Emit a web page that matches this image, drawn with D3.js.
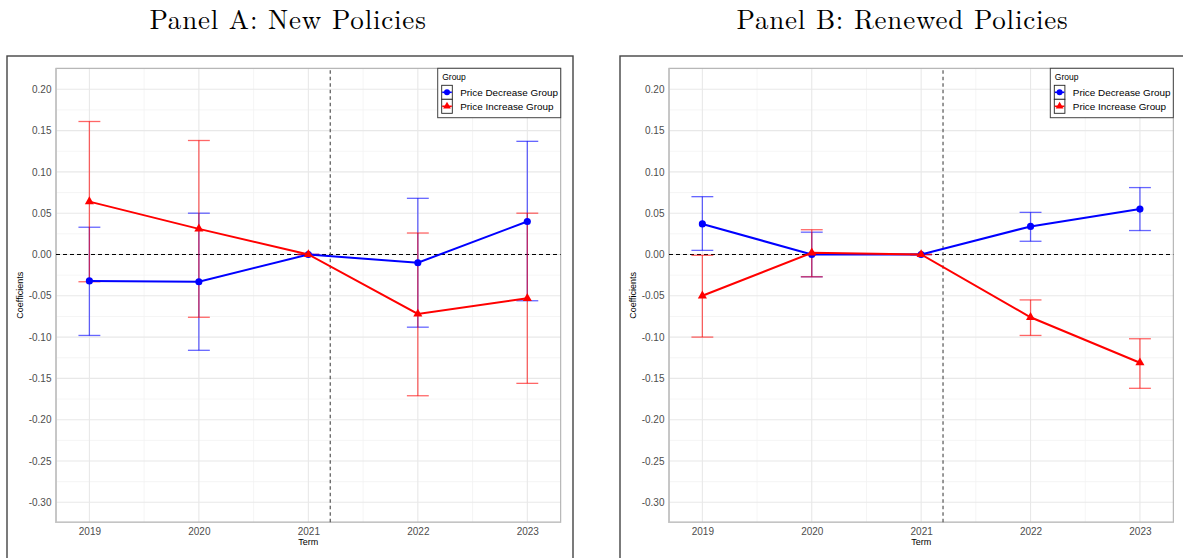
<!DOCTYPE html>
<html>
<head>
<meta charset="utf-8">
<script src="https://cdn.jsdelivr.net/npm/d3@7"></script>
<style>
  body { margin: 0; background: #fff; }
  svg { display: block; }
</style>
</head>
<body>
<div id="chart"></div>
<script>
// event-study coefficients
const years = [2019, 2020, 2021, 2022, 2023];
const groups = ["Price Decrease Group", "Price Increase Group"];
const yTicks = [-0.30, -0.25, -0.20, -0.15, -0.10, -0.05, 0.00, 0.05, 0.10, 0.15, 0.20];

// Panel A: new policies
const newDecEst = [-0.032, -0.033, 0.000, -0.010, 0.040];
const newDecLo  = [-0.098, -0.116, 0.000, -0.088, -0.056];
const newDecHi  = [0.033, 0.050, 0.000, 0.068, 0.137];
const newIncEst = [0.064, 0.031, 0.000, -0.072, -0.053];
const newIncLo  = [-0.033, -0.076, 0.000, -0.171, -0.156];
const newIncHi  = [0.161, 0.138, 0.000, 0.026, 0.050];

// Panel B: renewed policies
const renDecEst = [0.037, 0.000, 0.000, 0.034, 0.055];
const renDecLo  = [0.005, -0.027, 0.000, 0.016, 0.029];
const renDecHi  = [0.070, 0.027, 0.000, 0.051, 0.081];
const renIncEst = [-0.050, 0.002, 0.000, -0.076, -0.131];
const renIncLo  = [-0.100, -0.027, 0.000, -0.098, -0.162];
const renIncHi  = [-0.001, 0.030, 0.000, -0.055, -0.102];

const treatLine = 2021.2;

var width = 1183, height = 558;
var svg = d3.select("#chart").append("svg")
    .attr("width", width)
    .attr("height", height);

var colorScale = d3.scaleOrdinal().domain(groups).range(["#0000ff", "#ff0000"]);

function toRows(est, lo, hi) {
    return years.map((y, i) => ({year: y, est: est[i], lo: lo[i], hi: hi[i]}));
}

function drawPanel(opts) {
    var g = svg.append("g");

    // outer frame of the sub-figure
    g.append("rect")
        .attr("x", opts.frame[0]).attr("y", 56)
        .attr("width", opts.frame[1] - opts.frame[0]).attr("height", 520)
        .attr("fill", "none").attr("stroke", "#444").attr("stroke-width", 1.4);

    g.append("text")
        .attr("x", opts.titleX).attr("y", 28.5)
        .attr("text-anchor", "middle")
        .attr("font-family", "'Latin Modern Roman', 'CMU Serif', 'Liberation Serif', serif")
        .attr("font-size", 27)
        .attr("letter-spacing", 0.8)
        .attr("fill", "#000")
        .text(opts.title);

    var x = d3.scaleLinear().domain([2018.695, 2023.305]).range([opts.left, opts.right]);
    var y = d3.scaleLinear().domain([-0.3242, 0.2254]).range([522.3, 68.3]);

    // grid
    var minorX = d3.range(2019.5, 2023, 1);
    var minorY = d3.range(-0.275, 0.23, 0.05);
    g.append("g").selectAll("line").data(minorX).join("line")
        .attr("x1", d => x(d)).attr("x2", d => x(d))
        .attr("y1", y.range()[0]).attr("y2", y.range()[1])
        .attr("stroke", "#f3f3f3").attr("stroke-width", 0.8);
    g.append("g").selectAll("line").data(minorY).join("line")
        .attr("x1", opts.left).attr("x2", opts.right)
        .attr("y1", d => y(d)).attr("y2", d => y(d))
        .attr("stroke", "#f3f3f3").attr("stroke-width", 0.8);
    g.append("g").selectAll("line").data(years).join("line")
        .attr("x1", d => x(d)).attr("x2", d => x(d))
        .attr("y1", y.range()[0]).attr("y2", y.range()[1])
        .attr("stroke", "#e8e8e8").attr("stroke-width", 1.1);
    g.append("g").selectAll("line").data(yTicks).join("line")
        .attr("x1", opts.left).attr("x2", opts.right)
        .attr("y1", d => y(d)).attr("y2", d => y(d))
        .attr("stroke", "#e8e8e8").attr("stroke-width", 1.1);

    // panel border
    g.append("rect")
        .attr("x", opts.left).attr("y", 68.3)
        .attr("width", opts.right - opts.left).attr("height", 522.3 - 68.3)
        .attr("fill", "none").attr("stroke", "#a8a8a8").attr("stroke-width", 1);
    g.append("path")
        .attr("d", `M${opts.left},68.3V522.3H${opts.right}`)
        .attr("fill", "none").attr("stroke", "#c4c4c4").attr("stroke-width", 1.6);

    // reference lines
    g.append("line")
        .attr("x1", opts.left).attr("x2", opts.right)
        .attr("y1", y(0)).attr("y2", y(0))
        .attr("stroke", "#000").attr("stroke-width", 1)
        .attr("stroke-dasharray", "4,3");
    g.append("line")
        .attr("x1", x(treatLine)).attr("x2", x(treatLine))
        .attr("y1", y.range()[0]).attr("y2", y.range()[1])
        .attr("stroke", "#555").attr("stroke-width", 1.2)
        .attr("stroke-dasharray", "3.5,3");

    // axes
    var xAxis = g.append("g")
        .attr("transform", "translate(0,522.3)")
        .call(d3.axisBottom(x).tickValues(years).tickFormat(d3.format("d")).tickSize(0).tickPadding(5.5));
    var yAxis = g.append("g")
        .attr("transform", `translate(${opts.left},0)`)
        .call(d3.axisLeft(y).tickValues(yTicks).tickFormat(d3.format(".2f")).tickSize(0).tickPadding(4.5));
    [xAxis, yAxis].forEach(a => {
        a.select(".domain").remove();
        a.selectAll("text")
            .attr("font-family", "'Liberation Sans', Arial, sans-serif")
            .attr("font-size", 10)
            .attr("fill", "#4d4d4d");
    });
    yAxis.selectAll("text").text(d => d3.format(".2f")(d).replace("−", "-"));

    g.append("text")
        .attr("x", (opts.left + opts.right) / 2).attr("y", 545)
        .attr("text-anchor", "middle")
        .attr("font-family", "'Liberation Sans', Arial, sans-serif")
        .attr("font-size", 9)
        .text("Term");
    var ylx = opts.left - 33;
    g.append("text")
        .attr("x", ylx).attr("y", 295.3)
        .attr("text-anchor", "middle")
        .attr("transform", `rotate(-90,${ylx},295.3)`)
        .attr("font-family", "'Liberation Sans', Arial, sans-serif")
        .attr("font-size", 9)
        .text("Coefficients");

    // series
    var series = [
        {name: groups[0], rows: opts.dec},
        {name: groups[1], rows: opts.inc}
    ];
    var capW = x(2019.1) - x(2019);

    series.forEach(s => {
        var c = colorScale(s.name);
        var eb = g.append("g").attr("stroke", c).attr("stroke-opacity", 0.6).attr("stroke-width", 1.3);
        eb.selectAll(".v").data(s.rows).join("line")
            .attr("x1", d => x(d.year)).attr("x2", d => x(d.year))
            .attr("y1", d => y(d.lo)).attr("y2", d => y(d.hi));
        eb.selectAll(".lo").data(s.rows).join("line")
            .attr("x1", d => x(d.year) - capW).attr("x2", d => x(d.year) + capW)
            .attr("y1", d => y(d.lo)).attr("y2", d => y(d.lo));
        eb.selectAll(".hi").data(s.rows).join("line")
            .attr("x1", d => x(d.year) - capW).attr("x2", d => x(d.year) + capW)
            .attr("y1", d => y(d.hi)).attr("y2", d => y(d.hi));
    });

    series.forEach((s, i) => {
        var c = colorScale(s.name);
        g.append("path")
            .datum(s.rows)
            .attr("fill", "none")
            .attr("stroke", c)
            .attr("stroke-width", 2)
            .attr("d", d3.line().x(d => x(d.year)).y(d => y(d.est)));
        g.append("g").selectAll("path").data(s.rows).join("path")
            .attr("transform", d => `translate(${x(d.year)},${y(d.est)})`)
            .attr("d", d3.symbol().type(i === 0 ? d3.symbolCircle : d3.symbolTriangle).size(i === 0 ? 40 : 36))
            .attr("fill", c);
    });

    // legend
    var lx = opts.right - 123, ly = 68.3;
    var lg = g.append("g").attr("transform", `translate(${lx},${ly})`);
    lg.append("rect")
        .attr("width", 123).attr("height", 49.4)
        .attr("fill", "#fff").attr("stroke", "#444").attr("stroke-width", 1);
    lg.append("text")
        .attr("x", 4.5).attr("y", 12)
        .attr("font-family", "'Liberation Sans', Arial, sans-serif")
        .attr("font-size", 8.5)
        .text("Group");
    groups.forEach((name, i) => {
        var ky = 17 + i * 14;
        var k = lg.append("g").attr("transform", `translate(4,${ky})`);
        k.append("rect").attr("width", 10.6).attr("height", 14)
            .attr("fill", "#fff").attr("stroke", "#222").attr("stroke-width", 0.9);
        k.append("line").attr("x1", 0.5).attr("x2", 10.1).attr("y1", 7).attr("y2", 7)
            .attr("stroke", colorScale(name)).attr("stroke-width", 1.6);
        k.append("path")
            .attr("transform", "translate(5.3,7)")
            .attr("d", d3.symbol().type(i === 0 ? d3.symbolCircle : d3.symbolTriangle).size(i === 0 ? 28 : 26))
            .attr("fill", colorScale(name));
        lg.append("text")
            .attr("x", 22.5).attr("y", ky + 10.5)
            .attr("font-family", "'Liberation Sans', Arial, sans-serif")
            .attr("font-size", 9.9)
            .attr("fill", "#000")
            .text(name);
    });
}

drawPanel({
    title: "Panel A: New Policies", titleX: 288,
    frame: [7, 573], left: 56, right: 560.7,
    dec: toRows(newDecEst, newDecLo, newDecHi),
    inc: toRows(newIncEst, newIncLo, newIncHi)
});
drawPanel({
    title: "Panel B: Renewed Policies", titleX: 902.5,
    frame: [620, 1190], left: 669, right: 1173.3,
    dec: toRows(renDecEst, renDecLo, renDecHi),
    inc: toRows(renIncEst, renIncLo, renIncHi)
});
</script>
</body>
</html>
